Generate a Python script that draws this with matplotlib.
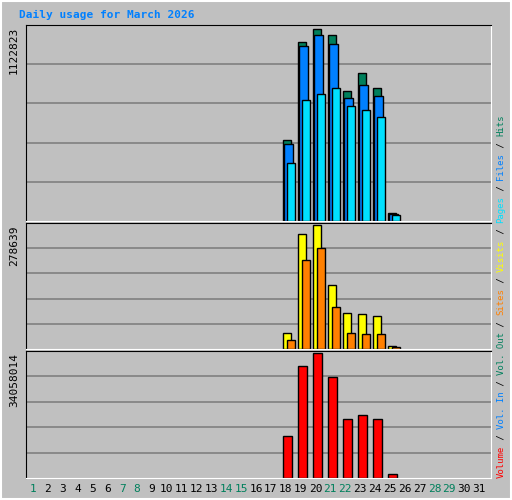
import matplotlib
matplotlib.use("Agg")
import matplotlib.pyplot as plt
from matplotlib.patches import Rectangle
import numpy as np

days = list(range(1, 32))
weekend = [1, 7, 8, 14, 15, 21, 22, 28, 29]
active = [18, 19, 20, 21, 22, 23, 24, 25]
max_hits = 1122823
max_visits = 278639
max_vol = 34058014
hits_frac = [0.42, 0.93, 1.0, 0.97, 0.675, 0.77, 0.69, 0.04]
files_frac = [0.40, 0.91, 0.97, 0.92, 0.64, 0.71, 0.65, 0.035]
pages_frac = [0.30, 0.63, 0.66, 0.69, 0.60, 0.58, 0.54, 0.03]
visits_frac = [0.13, 0.93, 1.0, 0.52, 0.29, 0.28, 0.27, 0.025]
sites_frac = [0.07, 0.72, 0.82, 0.34, 0.13, 0.12, 0.12, 0.015]
vol_frac = [0.34, 0.90, 1.0, 0.81, 0.47, 0.51, 0.47, 0.035]

hits = [f * max_hits for f in hits_frac]
files = [f * max_hits for f in files_frac]
pages = [f * max_hits for f in pages_frac]
visits = [f * max_visits for f in visits_frac]
sites = [f * max_visits for f in sites_frac]
vol = [f * max_vol for f in vol_frac]

W, H = 512, 500
BG = "#C0C0C0"
fig = plt.figure(figsize=(W / 100, H / 100), dpi=100, facecolor=BG)
mono = "DejaVu Sans Mono"

X0, X1 = 26, 491

def ax_px(x0, y0, x1, y1):
    return fig.add_axes([x0 / W, 1 - y1 / H, (x1 - x0) / W, (y1 - y0) / H])

fig.add_artist(Rectangle((0.002, 0.002), 0.996, 0.996, transform=fig.transFigure,
                         fill=False, edgecolor="white", lw=1.5))
fig.text(19 / W, 1 - 15 / H, "Daily usage for March 2026", color="#0080FF",
         fontsize=8, fontweight="bold", family=mono, va="center")

def panel(y0, y1, series, colors, offsets, width, ymax, label):
    ax = ax_px(X0, y0, X1, y1)
    ax.set_facecolor(BG)
    ax.set_xlim(0.5, 31.5)
    ax.set_ylim(0, ymax * 1.02)
    for k in range(1, 5):
        ax.axhline(ymax * 1.02 * k / 5, color="#808080", lw=1.2, zorder=0)
    for vals, c, off in zip(series, colors, offsets):
        ax.bar(np.array(active) + off, vals, width=width, color=c,
               edgecolor="black", lw=1, align="edge", zorder=2)
    ax.set_xticks([]); ax.set_yticks([])
    for s in ax.spines.values():
        s.set_color("black")
    ax.spines["bottom"].set_color("white"); ax.spines["right"].set_color("white")
    fig.text(14 / W, 1 - (y0 + 2) / H, label, rotation=90, fontsize=8,
             family=mono, va="top", ha="center")
    return ax

panel(25, 221, [hits, files, pages], ["#00805C", "#0080FF", "#00E0FF"],
      [-0.4, -0.27, -0.13], 0.55, max_hits, str(max_hits))
panel(223, 349, [visits, sites], ["#FFFF00", "#FF8000"],
      [-0.4, -0.13], 0.55, max_visits, str(max_visits))
panel(351, 478, [vol], ["#FF0000"], [-0.4], 0.6, max_vol, str(max_vol))

# right legend, bottom-to-top
parts = [("Volume", "#FF0000"), (" / ", "black"), ("Vol. In", "#0080FF"),
         (" / ", "black"), ("Vol. Out", "#00805C"), (" / ", "black"),
         ("Sites", "#FF8000"), (" / ", "black"), ("Visits", "#FFFF00"),
         (" / ", "black"), ("Pages", "#00E0FF"), (" / ", "black"),
         ("Files", "#0080FF"), (" / ", "black"), ("Hits", "#00805C")]
ch = 5.42
y = 478
for p, c in parts:
    n = len(p)
    yc = y - n * ch / 2
    fig.text(501 / W, 1 - yc / H, p, color=c, rotation=90, fontsize=6.5,
             family=mono, ha="center", va="center")
    y -= n * ch

for d in days:
    xx = 33 + (d - 1) * (479 - 33) / 30
    fig.text(xx / W, 1 - 489 / H, str(d), color="#00805C" if d in weekend else "black",
             fontsize=8, family=mono, ha="center", va="center")

fig.savefig("out.png", dpi=100, facecolor=BG)
